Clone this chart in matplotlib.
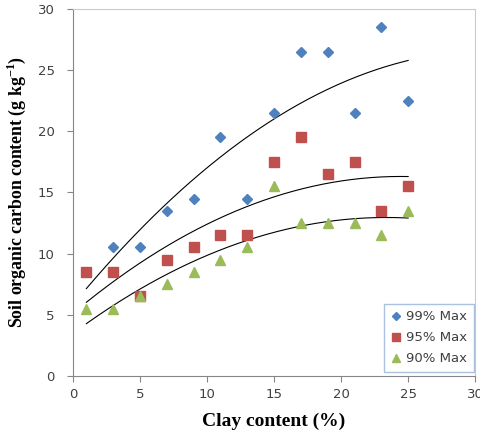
import numpy as np
import matplotlib
matplotlib.use("Agg")
import matplotlib.pyplot as plt

clay = [1, 3, 5, 7, 9, 11, 13, 15, 17, 19, 21, 23, 25]
soc99 = [8.5, 10.5, 10.5, 13.5, 14.5, 19.5, 14.5, 21.5, 26.5, 26.5, 21.5, 28.5, 22.5]
soc95 = [8.5, 8.5, 6.5, 9.5, 10.5, 11.5, 11.5, 17.5, 19.5, 16.5, 17.5, 13.5, 15.5]
soc90 = [5.5, 5.5, 6.5, 7.5, 8.5, 9.5, 10.5, 15.5, 12.5, 12.5, 12.5, 11.5, 13.5]
labels = ["99% Max", "95% Max", "90% Max"]

fig = plt.figure(figsize=(4.8, 4.32), dpi=100)
ax = fig.add_axes([0.152, 0.130, 0.838, 0.849])

xs = np.linspace(1, 25, 200)
for yd in [soc99, soc95, soc90]:
    c = np.polyfit(clay, yd, 2)
    ax.plot(xs, np.polyval(c, xs), color="black", lw=0.8, zorder=2)

ax.plot(clay, soc99, ls="none", marker="D", ms=5.5, color="#4F81BD", label=labels[0], zorder=3)
ax.plot(clay, soc95, ls="none", marker="s", ms=6.5, color="#C0504D", label=labels[1], zorder=4)
ax.plot(clay, soc90, ls="none", marker="^", ms=7, color="#9BBB59", label=labels[2], zorder=5)

ax.set_xlim(0, 30)
ax.set_ylim(0, 30)
ax.set_xticks(range(0, 31, 5))
ax.set_yticks(range(0, 31, 5))
ax.tick_params(direction="out", length=4, color="#868686", labelcolor="#404040", labelsize=9.5)
ax.tick_params(axis="x", pad=5)
ax.tick_params(axis="y", pad=9)
for s in ["left", "bottom"]:
    ax.spines[s].set_color("#868686")
for s in ["top", "right"]:
    ax.spines[s].set_color("#B9CDE5")

ax.set_xlabel("Clay content (%)", family="Liberation Serif", fontweight="bold", fontsize=14, labelpad=8)
ax.set_ylabel("Soil organic carbon content (g kg$^{\\mathregular{-1}}$)", family="Liberation Serif",
              fontweight="bold", fontsize=12.8, labelpad=7)

leg = ax.legend(loc="lower right", bbox_to_anchor=(0.9975, 0.011), borderaxespad=0, frameon=True,
                fancybox=False, edgecolor="#95B3D7", fontsize=9.5, handlelength=0.8, handletextpad=0.4,
                borderpad=0.5, labelspacing=0.6, markerscale=0.8)
leg.get_frame().set_linewidth(1.0)
for t in leg.get_texts():
    t.set_color("#404040")

fig.savefig("out.png", dpi=100)
